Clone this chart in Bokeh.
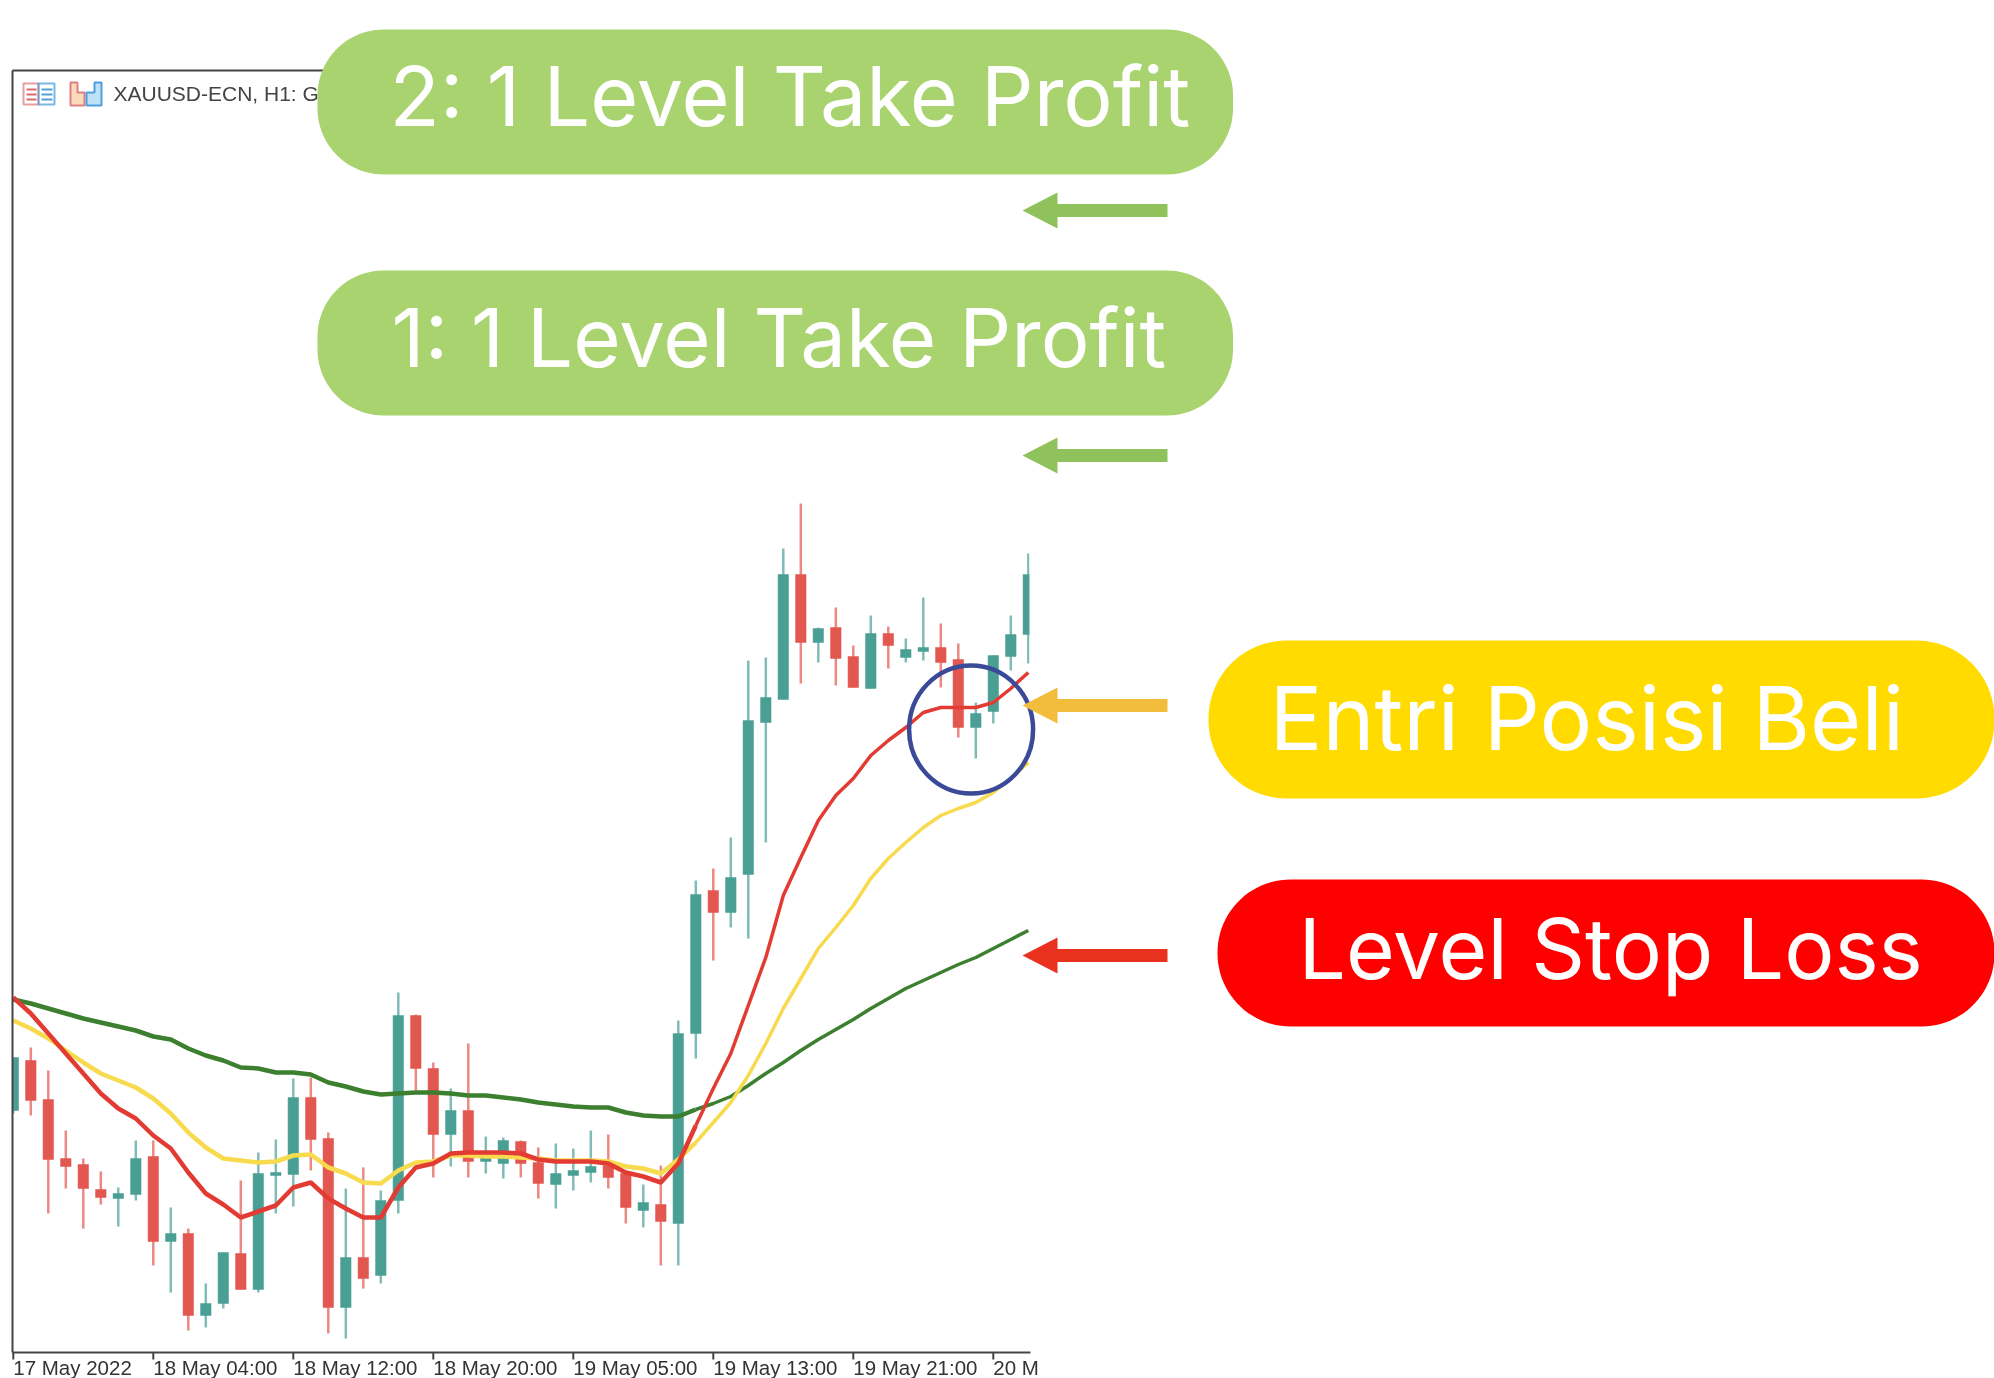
import numpy as np
from bokeh.plotting import figure
from bokeh.embed import file_html
from bokeh.resources import INLINE
from bokeh.core.properties import value
from bokeh.models import Range1d, LinearAxis, FixedTicker

# Candles, in chart points above the time axis
bull = [1,0,0,0,0,0,1,1,0,1,0,1,1,0,1,1,1,0,0,1,0,1,1,0,0,1,0,1,1,0,
        0,1,1,1,0,0,1,0,1,1,0,1,1,1,1,0,1,0,0,1,0,1,1,0,0,1,1,1,1]
high = [295,305,282,222,194,181,165,212,212,145,124,69,100,172,200,213,274,275,220,164,
        185,162,360,338,290,264,309,216,215,212,205,209,204,222,218,182,168,187,332,472,
        484,515,692,695,804,849,725,745,707,737,726,714,755,729,709,650,697,737,799]
top = [295,292,253,194,188,163,159,194,196,119,119,49,100,99,179,180,255,255,214,95,
       95,152,337,337,284,242,242,195,212,211,190,179,182,186,187,179,150,148,319,458,
       462,475,632,655,778,778,724,725,696,719,719,703,705,705,693,639,697,718,778]
bot = [242,252,193,186,164,155,154,158,111,111,37,37,49,63,63,177,178,213,45,45,
       74,77,152,284,218,218,191,191,189,189,169,168,177,180,175,145,142,131,129,319,
       440,440,478,630,653,710,710,694,665,664,707,695,701,690,625,625,641,696,718]
low = [239,237,139,164,124,148,126,152,87,60,22,25,44,63,60,139,146,182,19,14,
       64,69,139,262,175,186,175,179,174,175,154,144,162,170,164,129,125,87,87,294,
       392,425,414,510,653,669,690,667,665,664,684,690,692,665,615,594,629,682,689]

# Moving averages, same units
ma_green = [353,349,344,339,334,330,326,322,316,313,304,297,292,285,284,280,280,278,270,266,
            261,258,259,260,260,259,257,257,255,253,250,248,246,245,245,240,237,236,236,243,
            249,256,267,279,290,302,313,323,333,344,354,364,372,380,388,395,404,413,422]
ma_red = [355,339,319,299,279,259,244,234,217,204,180,159,148,135,141,147,165,170,154,144,
          135,135,165,185,189,199,200,200,200,199,193,191,191,191,189,180,176,170,189,227,
          264,299,347,395,457,495,532,557,574,597,612,625,640,645,645,645,650,664,680]
ma_yellow = [332,324,314,302,290,279,272,265,254,239,220,205,194,192,190,191,197,198,185,179,
             170,169,182,190,191,197,197,196,196,195,194,192,192,192,191,186,184,179,193,210,
             230,250,277,309,344,374,404,425,447,474,494,510,525,537,544,550,560,574,590]

tick_bars = [0, 8, 16, 24, 32, 40, 48, 56]
tick_labels = ["17 May 2022", "18 May 04:00", "18 May 12:00", "18 May 20:00",
               "19 May 05:00", "19 May 13:00", "19 May 21:00", "20 M"]

header_text = "XAUUSD-ECN, H1: G"
label_texts = ["2: 1 Level Take Profit", "1: 1 Level Take Profit", "Entri Posisi Beli", "Level Stop Loss"]

W, H = 1994, 1378
AXIS_Y, LEFT = 1352, 12
X0, DX = 12.8, 17.5
TEAL, RED = "#4a9f95", "#e2574f"
FONT = "Inter"
AXIS_COL = "#444444"

p = figure(width=W, height=H, output_backend="svg", toolbar_location=None,
           x_range=Range1d(0, W), y_range=Range1d(H, 0),
           x_axis_type=None, y_axis_type=None,
           min_border_left=0, min_border_right=0, min_border_top=0, min_border_bottom=0,
           styles={"position": "fixed", "left": "0px", "top": "0px"})
p.outline_line_color = None
p.background_fill_color = "white"
p.border_fill_color = "white"
p.extra_x_ranges["bars"] = Range1d(-X0 / DX, (W - X0) / DX)
p.extra_y_ranges["pts"] = Range1d(AXIS_Y - H, AXIS_Y)

xa = LinearAxis(x_range_name="bars", ticker=FixedTicker(ticks=[]), fixed_location=AXIS_Y)
xa.bounds = (-0.05, (1030 - X0) / DX)
xa.axis_line_color = AXIS_COL; xa.axis_line_width = 2
xa.major_tick_line_color = None; xa.minor_tick_line_color = None
p.add_layout(xa, "below")

ya = LinearAxis(y_range_name="pts", ticker=FixedTicker(ticks=[]), fixed_location=LEFT)
ya.bounds = (0, AXIS_Y - 70)
ya.axis_line_color = AXIS_COL; ya.axis_line_width = 2
ya.major_tick_line_color = None; ya.minor_tick_line_color = None
p.add_layout(ya, "left")

# Ticks hang below the axis, with labels starting at the tick
n_ticks = len(tick_bars)
p.segment(tick_bars, [0] * n_ticks, tick_bars, [-7] * n_ticks, line_color=AXIS_COL, line_width=2,
          x_range_name="bars", y_range_name="pts")
p.text(tick_bars, [1366.5] * n_ticks, text=tick_labels, x_range_name="bars",
       text_font=value("Liberation Sans"), text_font_size="20.5px", text_color="#333333",
       text_baseline="middle")

# Candles
idx = np.arange(len(high))
cols = [TEAL if b else RED for b in bull]
p.segment(idx, high, idx, low, line_color=cols, line_width=2.5, line_alpha=0.7,
          x_range_name="bars", y_range_name="pts")
p.vbar(idx, width=0.6, top=top, bottom=bot, fill_color=cols, line_color=cols, line_width=0.5,
       x_range_name="bars", y_range_name="pts")

# Chart's left and right edges crop the first and last candles
p.quad(left=1029, right=1040, top=480, bottom=1000, fill_color="white", line_color=None)
p.quad(left=0, right=LEFT, top=900, bottom=1200, fill_color="white", line_color=None)

# Moving averages: heavier up to the breakout candle
SPLIT = 39
for ma, col in ((ma_green, "#3b7f2f"), (ma_yellow, "#f8da4e"), (ma_red, "#e23b33")):
    p.line(idx[:SPLIT + 1], ma[:SPLIT + 1], line_color=col, line_width=4.5,
           x_range_name="bars", y_range_name="pts")
    p.line(idx[SPLIT:], ma[SPLIT:], line_color=col, line_width=3.5,
           x_range_name="bars", y_range_name="pts")

# Circle
p.ellipse(x=[970.6], y=[729], width=[124], height=[128], fill_color=None,
          line_color="#3a4a99", line_width=4.5)

# Chart frame top and header
p.segment(LEFT, 70, 340, 70, line_color=AXIS_COL, line_width=2)

def outline(x0, y0, x1, y1, col):
    p.quad(left=x0, right=x1, top=y0, bottom=y1, fill_color=None, line_color=col, line_width=2, line_alpha=0.75)

outline(23, 83, 38, 104, "#e07f7f")
outline(38, 83, 54, 104, "#4f9fdc")
p.segment([26, 26, 26, 41, 41, 41], [89, 94, 99, 89, 94, 99], [36, 36, 36, 52, 52, 52], [89, 94, 99, 89, 94, 99],
          line_color=["#d96a6a"] * 3 + ["#4f9fdc"] * 3, line_width=2)
p.patch([70, 77, 77, 84, 84, 70], [82, 82, 92, 92, 105, 105], fill_color="#fbd9bd", line_color="#e07f7f", line_width=2)
p.patch([86, 94, 94, 101, 101, 86], [92, 92, 82, 82, 105, 105], fill_color="#bfe0f7", line_color="#4f9fdc", line_width=2)
p.text([113], [93], text=[header_text], text_font=value("Liberation Sans"), text_font_size="21px",
       text_color="#444444", text_baseline="middle")

# Arrows
def arrow(y, col, shaft=13, half=18):
    tip, base, end = 1022, 1057, 1167
    p.patch([tip, base, base, end, end, base, base],
            [y, y - half, y - shaft / 2, y - shaft / 2, y + shaft / 2, y + shaft / 2, y + half],
            fill_color=col, line_color=None)

arrow(210, "#8fc25a")
arrow(455, "#8fc25a")
arrow(705, "#f2bd3c")
arrow(955, "#e8321f")

# Pills
def pill(x0, y0, x1, y1, r, col):
    t = np.linspace(0, np.pi / 2, 24)
    xs = np.r_[x0 + r - r * np.cos(t), x1 - r + r * np.sin(t), x1 - r + r * np.cos(t), x0 + r - r * np.sin(t)]
    ys = np.r_[y0 + r - r * np.sin(t), y0 + r - r * np.cos(t), y1 - r + r * np.sin(t), y1 - r + r * np.cos(t)]
    p.patch(xs, ys, fill_color=col, line_color=None)

pill(317, 29, 1232.5, 174, 66, "#a8d36e")
pill(317, 270, 1232.5, 415, 66, "#a8d36e")
pill(1208, 640, 1994, 798, 78, "#ffdb00")
pill(1217, 879, 1994, 1026, 73, "#ff0000")

for x, y, size, t in zip([389, 391, 1269, 1298], [95.5, 336.5, 717, 948], [82.5, 81.5, 88, 83.8], label_texts):
    p.text([x], [y], text=[t], text_font=value(FONT), text_font_size=f"{size}px",
           text_color="white", text_baseline="middle")

open("out.html", "w").write(file_html(p, INLINE))
